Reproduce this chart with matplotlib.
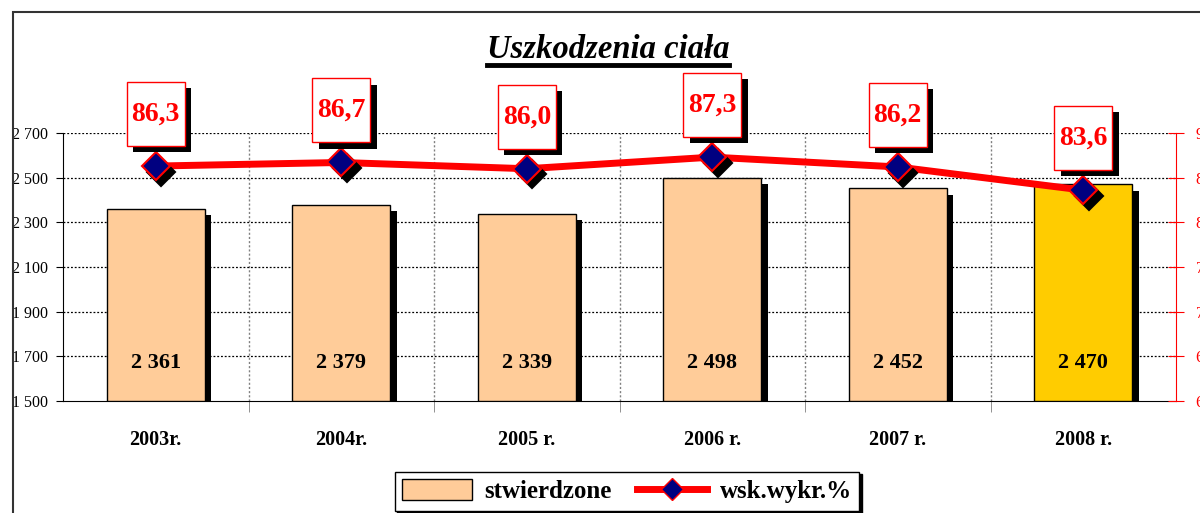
import matplotlib
matplotlib.use("Agg")
import matplotlib.pyplot as plt
import matplotlib.patheffects as pe
import matplotlib.transforms as mtransforms
from matplotlib.patches import Patch, Rectangle
from matplotlib.lines import Line2D
from matplotlib.ticker import FuncFormatter

years = ["2003r.", "2004r.", "2005 r.", "2006 r.", "2007 r.", "2008 r."]
stwierdzone = [2361, 2379, 2339, 2498, 2452, 2470]
wsk_wykr = [86.3, 86.7, 86.0, 87.3, 86.2, 83.6]
bar_colors = ["#FFCC99"] * 5 + ["#FFCC00"]

serif = ["Liberation Serif", "DejaVu Serif"]
plt.rcParams["font.family"] = serif

fig = plt.figure(figsize=(12, 5.13), dpi=100)
W, H = 1200, 513

# outer frame of the chart area (right and bottom run off the picture)
fig.patches.append(Rectangle((13 / W, -0.1), 1.0, 1.1 - 12 / H, transform=fig.transFigure,
                             fill=False, ec="#333333", lw=1.5))

ax = fig.add_axes([63 / W, 1 - 401 / H, (1176 - 63) / W, (401 - 133) / H])
ax2 = ax.twinx()

x = list(range(len(years)))
shadow = [pe.SimplePatchShadow(offset=(4.5, -4.5), shadow_rgbFace="black", alpha=1), pe.Normal()]

bars = ax.bar(x, [v - 1500 for v in stwierdzone], bottom=1500, width=0.53,
              color=bar_colors, edgecolor="black", linewidth=1, zorder=3)
for b in bars:
    b.set_path_effects(shadow)

for i, v in enumerate(stwierdzone):
    ax.text(i, 1670, f"{v:,}".replace(",", " "), ha="center", va="center",
            fontsize=16, fontweight="bold", zorder=5)

ax.set_ylim(1500, 2700)
ax.set_xlim(-0.5, len(years) - 0.5)
ax.set_yticks(range(1500, 2701, 200))
ax.yaxis.set_major_formatter(FuncFormatter(lambda v, p: f"{int(v):,}".replace(",", " ")))
ax.tick_params(axis="y", direction="out", length=5, labelsize=11.5, pad=6)

ax.set_xticks(x)
ax.set_xticklabels(years, fontsize=14.5, fontweight="bold")
ax.tick_params(axis="x", which="major", length=0, pad=21)
ax.set_xticks([i + 0.5 for i in x[:-1]], minor=True)
ax.tick_params(axis="x", which="minor", length=8, color="gray")
ax.grid(axis="x", which="minor", color="gray", linestyle=(0, (1.5, 1.5)), lw=1)
for yv in range(1700, 2701, 200):
    ax.axhline(yv, color="black", linestyle=(0, (1.5, 1.5)), lw=0.9, zorder=1)
ax.set_axisbelow(True)

ax.spines["top"].set_visible(False)
ax.spines["right"].set_visible(False)
ax2.spines["top"].set_visible(False)
ax2.spines["left"].set_visible(False)
ax2.spines["bottom"].set_visible(False)
ax2.spines["right"].set_color("red")

ax2.set_ylim(60, 90)
ax2.set_yticks(range(60, 91, 5))
ax2.tick_params(axis="y", colors="red", direction="inout", length=12, labelsize=12, pad=8)

ax2.plot(x, wsk_wykr, color="red", lw=5, zorder=3, solid_capstyle="butt")
shadow_tr = mtransforms.offset_copy(ax2.transData, fig=fig, x=4, y=-4, units="points")
ax2.plot(x, wsk_wykr, linestyle="none", marker="D", markersize=14, color="black",
         markeredgewidth=1.5, transform=shadow_tr, zorder=3.5)
ax2.plot(x, wsk_wykr, linestyle="none", marker="D", markersize=14,
         markerfacecolor="#000080", markeredgecolor="red", markeredgewidth=1.5, zorder=4)

for i, v in enumerate(wsk_wykr):
    tr = fig.dpi_scale_trans + mtransforms.ScaledTranslation(i, v, ax2.transData)
    box = Rectangle((-0.29, 0.20), 0.58, 0.64, transform=tr, fc="white", ec="red",
                    lw=1, clip_on=False, zorder=6)
    box.set_path_effects(shadow)
    ax2.add_artist(box)
    ax2.text(0, 0.52, f"{v:.1f}".replace(".", ","), transform=tr, ha="center", va="center",
             color="red", fontsize=20, fontweight="bold", zorder=7, clip_on=False)

# title with underline
title = fig.text(608 / W, 1 - 50 / H, "Uszkodzenia ciała", ha="center", va="center",
                 fontsize=23.5, fontstyle="italic", fontweight="bold")
fig.canvas.draw()
bb = title.get_window_extent().transformed(fig.transFigure.inverted())
fig.add_artist(Line2D([bb.x0, bb.x1], [bb.y0 + 0.001, bb.y0 + 0.001], transform=fig.transFigure,
                      color="black", lw=3.5))

handles = [
    Patch(facecolor="#FFCC99", edgecolor="black", label="stwierdzone"),
    Line2D([], [], color="red", lw=5, marker="D", markersize=11,
           markerfacecolor="#000080", markeredgecolor="red", label="wsk.wykr.%"),
]
leg = fig.legend(handles=handles, loc="center", bbox_to_anchor=(627 / W, 1 - 491 / H), ncol=2,
                 frameon=True, fancybox=False, shadow={"color": "black", "alpha": 1},
                 prop={"family": serif, "weight": "bold", "size": 18},
                 handlelength=2.8, handleheight=0.9, columnspacing=1.0,
                 borderpad=0.3, handletextpad=0.5)
leg.get_frame().set_edgecolor("black")
leg.get_frame().set_linewidth(1)

fig.savefig("out.png", dpi=100)
